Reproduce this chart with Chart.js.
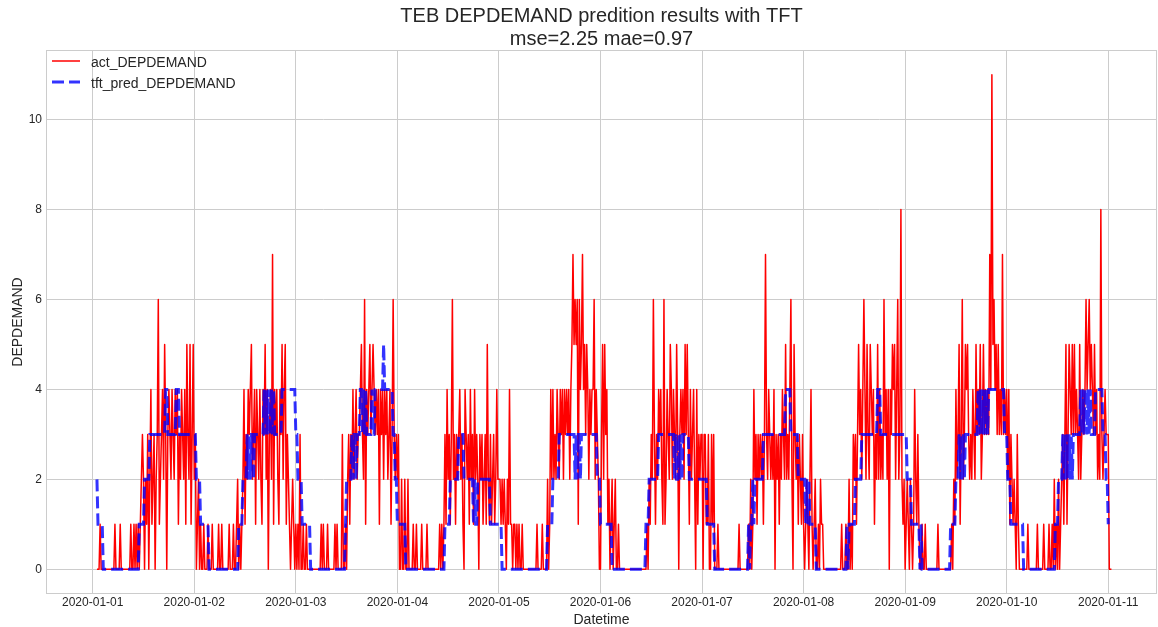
<!DOCTYPE html>
<html>
<head>
<meta charset="utf-8">
<title>TEB DEPDEMAND predition results with TFT</title>
<script src="https://cdn.jsdelivr.net/npm/chart.js@4.4.1/dist/chart.umd.min.js"></script>
<style>
  html, body { margin: 0; padding: 0; background: #ffffff; }
  #wrap { width: 1158px; height: 627px; }
</style>
</head>
<body>
<div id="wrap"><canvas id="demandChart" width="1158" height="627"></canvas></div>
<script>
//TEB DEPDEMAND actual vs TFT prediction, 15 minute steps (96 per day)

//tick labels
const dayLabels = ['2020-01-01', '2020-01-02', '2020-01-03', '2020-01-04', '2020-01-05',
	'2020-01-06', '2020-01-07', '2020-01-08', '2020-01-09', '2020-01-10', '2020-01-11'];
const yTicks = [0, 2, 4, 6, 8, 10];

//actual values, one array per day
const actJan01 = [null,null,null,null,0,0,0,1,0,0,0,0,
	0,0,0,0,0,0,0,0,0,1,0,0,
	0,0,1,0,0,0,0,0,0,0,0,0,
	1,0,0,1,0,1,0,1,0,1,2,3,
	2,0,2,1,3,0,2,4,1,2,3,0,
	2,3,6,1,2,3,4,2,5,3,0,3,
	4,3,2,4,3,2,4,3,4,1,3,2,
	4,3,2,4,1,5,3,2,5,1,3,5];
const actJan02 = [2,3,0,1,2,0,1,0,0,1,0,0,
	0,1,0,0,0,1,0,0,0,0,0,1,
	0,0,1,0,0,0,0,0,0,1,0,0,
	0,1,0,0,1,2,0,1,0,1,2,4,
	1,3,2,4,3,4,5,2,3,4,1,4,
	3,2,4,2,1,4,3,5,2,4,0,3,
	4,2,7,1,4,3,4,2,1,4,3,5,
	2,4,5,1,3,2,1,0,1,2,1,0];
const actJan03 = [1,0,1,0,3,0,0,1,0,0,1,0,
	0,0,0,0,0,0,0,0,0,0,0,0,
	1,0,1,0,0,0,1,0,0,0,0,0,
	0,1,0,1,0,0,0,0,3,0,0,1,
	0,2,3,1,3,2,4,2,3,4,2,3,
	3,4,5,3,2,6,1,4,3,4,5,3,
	4,5,4,3,4,3,4,1,4,3,4,2,
	4,3,4,2,3,4,1,3,6,3,2,3];
const actJan04 = [2,3,0,0,2,0,0,2,0,0,2,0,
	0,0,0,1,0,0,1,0,0,0,0,1,
	0,0,0,0,1,0,0,0,0,0,0,0,
	0,0,0,0,1,0,1,0,1,3,1,4,
	2,3,1,3,6,2,3,1,3,2,3,4,
	2,3,1,0,4,3,2,3,1,4,2,3,
	1,4,2,3,2,0,3,2,3,1,2,3,
	1,5,2,1,3,1,2,3,1,2,4,2];
const actJan05 = [2,2,1,2,1,2,1,0,2,1,4,1,
	1,0,1,1,0,1,0,1,0,0,1,0,
	0,0,0,0,0,0,0,0,0,0,0,0,
	1,0,0,0,0,1,0,0,0,0,2,0,
	1,4,2,4,2,3,2,4,3,2,4,3,
	4,2,4,3,4,3,4,2,4,5,7,5,
	6,5,6,1,6,4,5,7,4,5,3,5,
	4,2,4,3,4,4,6,2,4,3,2,0];
const actJan06 = [0,3,5,2,5,3,4,1,2,0,1,2,
	0,1,2,0,0,1,0,0,0,0,0,0,
	0,0,0,0,0,0,0,0,0,0,0,0,
	0,0,0,0,0,0,0,0,1,0,2,1,
	3,2,6,3,1,3,2,4,3,4,2,1,
	6,1,2,4,3,2,5,4,2,4,3,2,
	5,3,0,3,4,3,4,2,5,3,5,3,
	1,4,2,3,4,2,0,4,1,3,2,3];
const actJan07 = [3,0,3,3,1,1,3,0,0,3,1,3,
	0,0,0,1,0,0,0,0,0,0,0,0,
	0,0,0,0,0,0,0,0,0,0,0,1,
	0,0,0,0,0,0,0,0,1,0,2,0,
	1,4,2,3,1,3,2,3,2,3,1,3,
	7,3,2,4,3,2,3,2,4,0,3,2,
	3,1,3,2,4,3,2,5,2,3,2,4,
	6,2,0,5,3,2,3,1,3,2,1,3];
const actJan08 = [1,0,1,2,1,0,2,4,1,0,1,2,
	0,0,1,0,2,1,1,0,0,0,0,0,
	0,0,0,0,0,0,0,0,0,0,0,0,
	1,0,0,0,1,0,0,2,0,1,0,3,
	2,3,1,3,5,3,4,2,4,6,4,2,
	5,3,2,5,4,3,4,1,3,2,5,2,
	4,2,3,2,6,3,4,2,4,0,4,3,
	5,4,5,2,4,6,2,3,8,2,1,2];
const actJan09 = [0,1,2,1,0,2,1,0,1,4,2,1,
	3,1,0,0,1,0,0,1,0,0,0,0,
	0,0,0,0,0,0,0,1,0,0,0,0,
	0,0,0,0,0,0,0,0,1,0,2,1,
	4,2,3,5,1,3,6,2,3,5,4,5,
	3,2,3,2,4,3,2,5,3,4,3,5,
	2,3,5,3,4,3,4,3,7,4,11,5,
	6,4,5,3,5,3,4,3,7,3,4,3];
const actJan10 = [4,2,4,1,3,2,1,2,1,0,3,1,
	0,0,0,0,0,0,0,0,1,0,0,0,
	0,0,0,0,0,1,0,0,0,0,0,1,
	0,0,0,0,1,0,0,1,0,2,0,1,
	0,2,0,1,2,3,1,3,5,1,3,5,
	4,3,5,3,5,3,4,3,2,5,2,3,
	4,3,4,6,4,5,6,4,5,4,3,5,
	3,4,2,3,2,8,3,2,3,4,3,3];
const actJan11 = [3,0,0,0];

//tft predictions, one array per day
const predJan01 = [null,null,null,null,2,1,1,1,1,1,0,0,
	0,0,0,0,0,0,0,0,0,0,0,0,
	0,0,0,0,0,0,0,0,0,0,0,0,
	0,0,0,0,0,0,0,0,1,1,1,1,
	1,2,2,2,2,2,3,3,3,3,3,3,
	3,3,3,3,3,3,3,3,3,4,4,3,
	3,3,3,3,3,3,3,4,4,4,3,3,
	3,3,3,3,3,3,3,3,3,3,3,3];
const predJan02 = [3,3,2,2,2,2,1,1,1,1,1,1,
	1,1,0,0,0,0,0,0,0,0,0,0,
	0,0,0,0,0,0,0,0,0,0,0,0,
	0,0,0,0,0,0,1,1,1,1,2,2,
	2,2,3,2,3,2,3,3,2,3,3,3,
	3,3,3,3,3,3,4,3,4,3,4,3,
	3,4,3,4,3,3,3,3,3,3,3,4,
	4,4,4,4,4,4,4,4,4,4,4,4];
const predJan03 = [3,3,2,2,2,2,1,1,1,1,1,1,
	1,1,0,0,0,0,0,0,0,0,0,0,
	0,0,0,0,0,0,0,0,0,0,0,0,
	0,0,0,0,0,0,0,0,0,0,0,1,
	2,2,2,2,2,3,2,3,3,2,3,3,
	3,4,4,3,4,3,4,3,3,3,3,3,
	4,3,3,4,4,4,4,4,4,4,4,5,
	4,4,4,4,4,4,4,4,3,3,2,2];
const predJan04 = [1,1,1,1,1,1,1,1,0,0,0,0,
	0,0,0,0,0,0,0,0,0,0,0,0,
	0,0,0,0,0,0,0,0,0,0,0,0,
	0,0,0,0,0,0,0,0,0,1,1,1,
	1,1,2,2,2,2,2,2,2,2,3,3,
	3,3,3,2,2,2,2,2,2,2,2,2,
	1,2,1,1,2,2,2,2,2,2,2,2,
	2,2,2,2,1,1,1,1,1,1,1,1];
const predJan05 = [1,1,1,0,0,0,0,0,0,0,0,0,
	0,0,0,0,0,0,0,0,0,0,0,0,
	0,0,0,0,0,0,0,0,0,0,0,0,
	0,0,0,0,0,0,0,0,0,0,1,1,
	1,1,1,2,2,2,2,2,2,3,3,3,
	3,3,3,3,3,3,3,3,3,3,3,3,
	2,3,2,3,3,2,3,3,3,3,3,3,
	3,3,3,3,3,3,3,3,3,2,2,2];
const predJan06 = [1,1,1,1,1,1,1,1,1,1,1,0,
	0,0,0,0,0,0,0,0,0,0,0,0,
	0,0,0,0,0,0,0,0,0,0,0,0,
	0,0,0,0,0,0,0,1,1,1,2,2,
	2,2,2,2,2,2,2,3,3,3,3,3,
	3,3,3,3,3,3,3,3,3,3,2,3,
	2,2,3,2,3,2,3,3,3,3,3,3,
	2,2,2,2,2,2,2,2,2,2,2,2];
const predJan07 = [2,2,2,2,2,1,1,1,1,1,1,1,
	0,0,0,0,0,0,0,0,0,0,0,0,
	0,0,0,0,0,0,0,0,0,0,0,0,
	0,0,0,0,0,0,0,0,1,0,1,1,
	2,1,2,2,2,2,2,2,2,2,3,3,
	3,3,3,3,3,3,3,3,3,3,3,3,
	3,3,3,3,3,3,3,4,4,4,4,4,
	3,3,3,3,3,3,3,2,2,2,2,2];
const predJan08 = [2,2,1,2,1,2,1,1,1,1,1,1,
	0,0,0,0,0,0,0,0,0,0,0,0,
	0,0,0,0,0,0,0,0,0,0,0,0,
	0,0,0,0,0,1,0,1,1,1,1,1,
	1,2,2,2,2,2,2,3,3,3,3,3,
	3,3,3,3,3,3,3,3,3,3,4,4,
	4,3,3,3,3,3,3,3,3,3,3,3,
	3,3,3,3,3,3,3,3,3,3,3,3];
const predJan09 = [3,3,2,2,2,2,1,1,1,1,1,1,
	1,1,0,1,0,0,0,0,0,0,0,0,
	0,0,0,0,0,0,0,0,0,0,0,0,
	0,0,0,0,0,0,0,1,1,1,1,1,
	2,2,2,3,2,3,2,3,2,3,3,3,
	3,3,3,3,3,3,3,3,3,4,3,4,
	3,4,3,4,3,4,3,4,4,4,4,4,
	4,4,4,4,4,4,4,4,4,4,3,3];
const predJan10 = [3,2,2,2,1,1,1,1,1,1,1,1,
	1,1,1,1,0,0,0,0,0,0,0,0,
	0,0,0,0,0,0,0,0,0,0,0,0,
	0,0,0,0,0,0,0,0,0,0,1,1,
	1,2,2,2,2,3,2,3,2,3,2,3,
	2,3,2,3,3,3,3,3,3,3,4,3,
	4,3,4,4,3,4,3,4,3,3,3,3,
	4,4,4,4,4,4,4,3,3,3,2,2];
const predJan11 = [1];

const actualDays = [actJan01, actJan02, actJan03, actJan04, actJan05, actJan06,
	actJan07, actJan08, actJan09, actJan10, actJan11];
const predDays = [predJan01, predJan02, predJan03, predJan04, predJan05, predJan06,
	predJan07, predJan08, predJan09, predJan10, predJan11];

const STEPS_PER_DAY = 96;
const TEXT_COLOR = '#262626';
const GRID_COLOR = '#cccccc';
const FONT = "'Liberation Sans', Arial, sans-serif";

//x is days since 2020-01-01 00:00
function toPoints(days) {
	const pts = [];
	days.forEach((vals, d) => {
		vals.forEach((v, i) => {
			if (v !== null) pts.push({ x: d + i / STEPS_PER_DAY, y: v });
		});
	});
	return pts;
}

//title, axis titles, legend and frame drawn by hand
const decorations = {
	id: 'decorations',
	afterDraw(chart) {
		const { ctx, chartArea: a } = chart;
		const cx = (a.left + a.right) / 2;
		ctx.save();

		ctx.strokeStyle = GRID_COLOR;
		ctx.lineWidth = 1;
		ctx.strokeRect(a.left + 0.5, a.top + 0.5, a.right - a.left - 1, a.bottom - a.top - 1);

		ctx.fillStyle = TEXT_COLOR;
		ctx.textAlign = 'center';
		ctx.textBaseline = 'alphabetic';
		ctx.font = '20px ' + FONT;
		ctx.fillText('TEB DEPDEMAND predition results with TFT', cx, 22);
		ctx.fillText('mse=2.25 mae=0.97', cx, 45);

		ctx.font = '14px ' + FONT;
		ctx.fillText('Datetime', cx, 624);
		ctx.save();
		ctx.translate(22, (a.top + a.bottom) / 2);
		ctx.rotate(-Math.PI / 2);
		ctx.fillText('DEPDEMAND', 0, 0);
		ctx.restore();

		//legend
		ctx.textAlign = 'left';
		ctx.textBaseline = 'middle';
		ctx.strokeStyle = 'red';
		ctx.lineWidth = 1.5;
		ctx.beginPath();
		ctx.moveTo(52, 61);
		ctx.lineTo(80, 61);
		ctx.stroke();
		ctx.fillText('act_DEPDEMAND', 91, 63);

		ctx.strokeStyle = 'rgba(0, 0, 255, 0.8)';
		ctx.lineWidth = 3;
		ctx.setLineDash([12, 5]);
		ctx.beginPath();
		ctx.moveTo(52, 82);
		ctx.lineTo(80, 82);
		ctx.stroke();
		ctx.setLineDash([]);
		ctx.fillText('tft_pred_DEPDEMAND', 91, 84);

		ctx.restore();
	}
};

const ctx = document.getElementById('demandChart').getContext('2d');
const chart = new Chart(ctx, {
	type: 'line',
	data: {
		datasets: [{
			label: 'tft_pred_DEPDEMAND',
			data: toPoints(predDays),
			borderColor: 'rgba(0, 0, 255, 0.8)',
			borderWidth: 3,
			borderDash: [12, 5],
			pointRadius: 0,
			tension: 0,
			fill: false
		}, {
			label: 'act_DEPDEMAND',
			data: toPoints(actualDays),
			borderColor: 'red',
			borderWidth: 1.5,
			borderJoinStyle: 'round',
			pointRadius: 0,
			tension: 0,
			fill: false
		}]
	},
	options: {
		responsive: false,
		animation: false,
		devicePixelRatio: 1,
		layout: { padding: { top: 50, right: 1, bottom: 0, left: 0 } },
		font: { family: FONT },
		plugins: {
			legend: { display: false },
			title: { display: false },
			tooltip: { enabled: false }
		},
		scales: {
			x: {
				type: 'linear',
				min: -0.46,
				max: 10.48,
				afterBuildTicks: (s) => { s.ticks = dayLabels.map((_, i) => ({ value: i })); },
				afterFit: (s) => { s.height = 33; },
				grid: { color: GRID_COLOR, lineWidth: 1, drawTicks: false },
				border: { display: false },
				ticks: {
					padding: 1,
					autoSkip: false,
					maxRotation: 0,
					color: TEXT_COLOR,
					font: { family: FONT, size: 12 },
					callback: (value, index) => dayLabels[index]
				}
			},
			y: {
				type: 'linear',
				min: -0.55,
				max: 11.55,
				afterBuildTicks: (s) => { s.ticks = yTicks.map((v) => ({ value: v })); },
				afterFit: (s) => { s.width = 46; },
				grid: { color: GRID_COLOR, lineWidth: 1, drawTicks: false },
				border: { display: false },
				ticks: {
					padding: 4,
					color: TEXT_COLOR,
					font: { family: FONT, size: 12 },
					callback: (value) => String(value)
				}
			}
		}
	},
	plugins: [decorations]
});
</script>
</body>
</html>
